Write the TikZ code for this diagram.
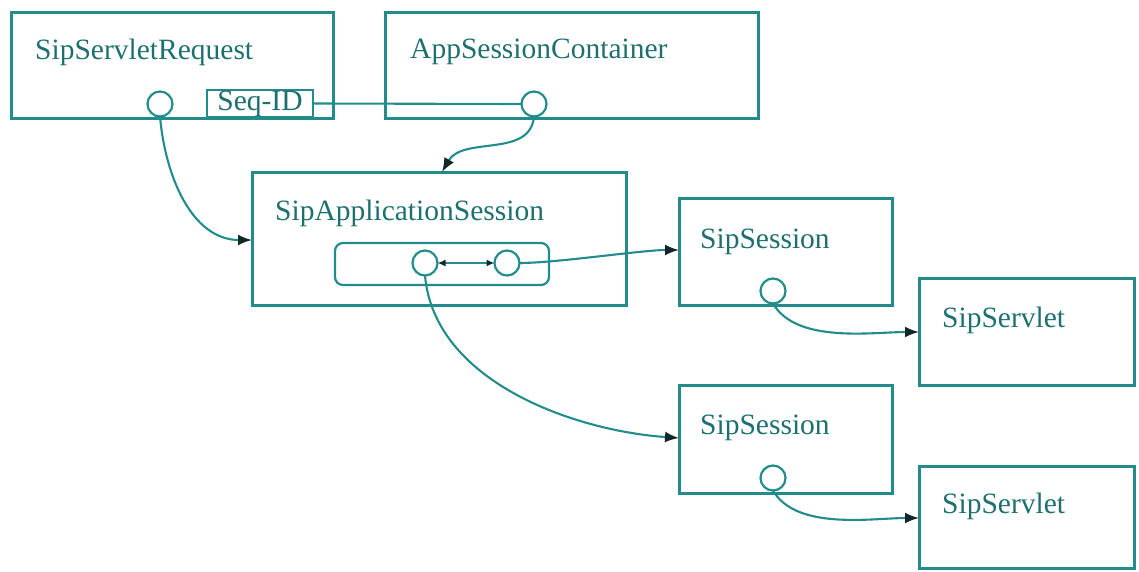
\documentclass[tikz,border=0pt]{standalone}
\usepackage{fontspec}
\setmainfont{Liberation Serif}
\usetikzlibrary{arrows.meta}
\definecolor{edge}{RGB}{34,140,140}
\definecolor{ink}{RGB}{30,112,112}
\definecolor{tipc}{RGB}{18,40,40}
\begin{document}
\begin{tikzpicture}[x=1pt,y=1pt,
  box/.style={draw=edge,line width=3pt,minimum width=#1,inner sep=0pt,outer sep=0pt,anchor=north west},
  title/.style={anchor=west,inner sep=0pt,text=ink,font=\fontsize{29.5}{31}\selectfont},
  port/.style={draw=edge,line width=2.2pt,fill=white,circle,minimum size=25pt,inner sep=0pt,outer sep=0pt},
  link/.style={draw=edge,line width=2.1pt},
  arr/.style={link,-{Latex[length=14pt,width=11pt,color=tipc]}},
  both/.style={link,{Latex[length=8pt,width=7pt,color=tipc]}-{Latex[length=8pt,width=7pt,color=tipc]}}
]
\useasboundingbox (0,0) rectangle (1139,-571);

% component boxes
\node[box=322pt,minimum height=106pt] (ssr) at (11,-12) {};
\node[box=373pt,minimum height=106pt] (asc) at (385,-12) {};
\node[box=374pt,minimum height=133pt] (sas) at (252,-172) {};
\node[box=213pt,minimum height=107pt] (ss1) at (679,-198) {};
\node[box=215pt,minimum height=107pt] (sv1) at (919,-278) {};
\node[box=213pt,minimum height=108pt] (ss2) at (679,-385) {};
\node[box=215pt,minimum height=102pt] (sv2) at (919,-466) {};

% titles
\node[title] (tssr) at (35,-52) {SipServletRequest};
\node[title] (tasc) at (410,-52) {AppSessionContainer};
\node[title] (tsas) at (275,-213) {SipApplicationSession};
\node[title] (tss1) at (700,-242) {SipSession};
\node[title] (tsv1) at (942,-320) {SipServlet};
\node[title] (tss2) at (700,-428) {SipSession};
\node[title] (tsv2) at (942,-506) {SipServlet};

% Seq-ID tag
\node[draw=edge,line width=2.2pt,minimum width=106pt,minimum height=27pt,inner sep=0pt,outer sep=0pt,
      text=ink,font=\fontsize{29.5}{31}\selectfont] (seq) at (260,-103.5) {Seq-ID};

% session map inside the application session
\node[draw=edge,line width=2.2pt,rounded corners=8pt,minimum width=214pt,minimum height=42pt,
      inner sep=0pt,outer sep=0pt] (map) at (442,-264) {};

% ports
\node[port] (pssr) at (160,-104) {};
\node[port] (pasc) at (534,-104) {};
\node[port] (pl) at (425,-263) {};
\node[port] (pr) at (507,-263) {};
\node[port] (pss1) at (773,-291) {};
\node[port] (pss2) at (773,-478) {};

% connectors
\coordinate (sasTop) at (442,-172);
\coordinate (sasLeft) at (252,-240);
\coordinate (ss1In) at (679,-250);
\coordinate (ss2In) at (679,-438);
\coordinate (sv1In) at (919,-332);
\coordinate (sv2In) at (919,-518);

\draw[link] (seq.east) -- (pasc.west);
\draw[arr] (pasc.south) to[out=-95,in=60] (sasTop);
\draw[arr] (pssr.south) to[out=-85,in=180] (sasLeft);
\draw[both] (pl.east) -- (pr.west);
\draw[arr] (pr.east) to[out=0,in=180,looseness=0.6] (ss1In);
\draw[arr] (pl.south) to[out=-85,in=176,looseness=0.9] (ss2In);
\draw[arr] (pss1.south) to[out=-60,in=180,looseness=0.8] (sv1In);
\draw[arr] (pss2.south) to[out=-60,in=180,looseness=0.8] (sv2In);
\end{tikzpicture}
\end{document}
